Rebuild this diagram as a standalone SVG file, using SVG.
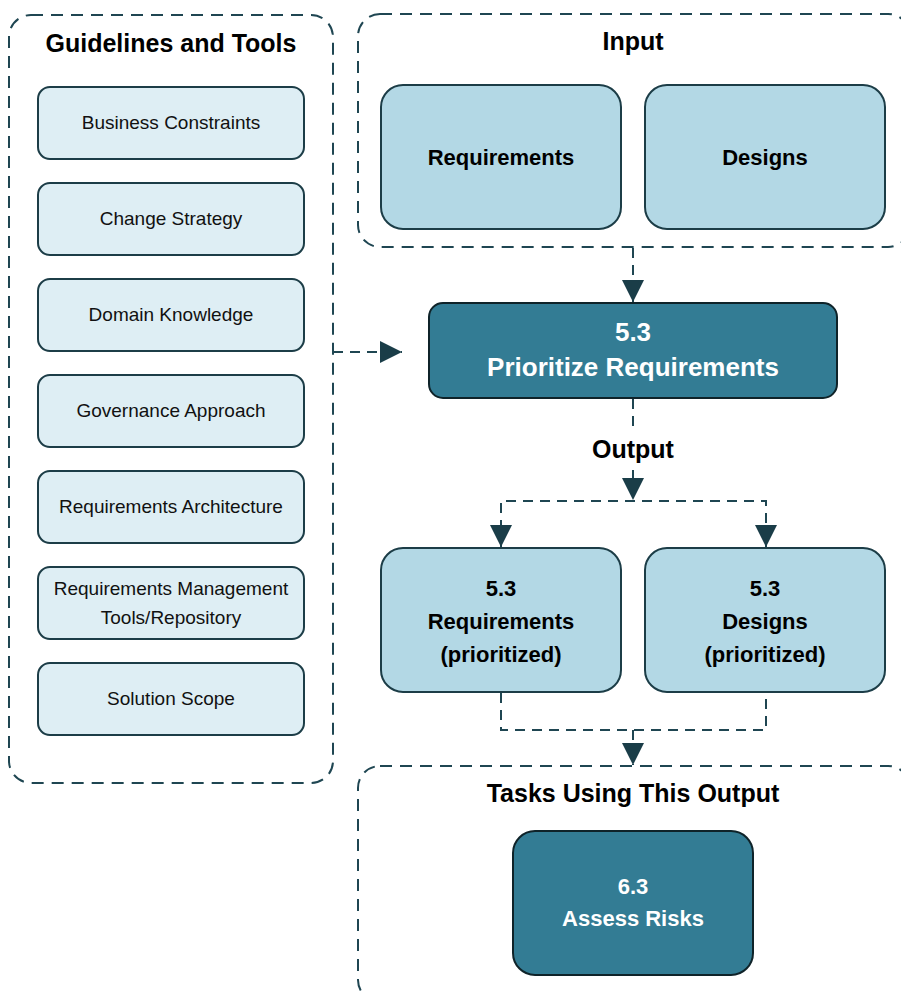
<svg xmlns="http://www.w3.org/2000/svg" width="901" height="994" viewBox="0 0 901 994">
<defs>
<style>
.cont{fill:none;stroke:#1f4652;stroke-width:2;stroke-dasharray:12,8}
.small{fill:#deeef4;stroke:#1c3d47;stroke-width:2}
.mid{fill:#b3d8e5;stroke:#1c3d47;stroke-width:2}
.dark{fill:#337c94;stroke:#0f2329;stroke-width:2}
.conn{fill:none;stroke:#1f4652;stroke-width:2;stroke-dasharray:10,7}
.title{font-family:"Liberation Sans",Arial,sans-serif;font-weight:bold;font-size:25px;fill:#000;text-anchor:middle}
.st{font-family:"Liberation Sans",Arial,sans-serif;font-size:19px;fill:#111;text-anchor:middle}
.bt{font-family:"Liberation Sans",Arial,sans-serif;font-weight:bold;font-size:22px;fill:#000;text-anchor:middle}
.wt{font-family:"Liberation Sans",Arial,sans-serif;font-weight:bold;font-size:26px;fill:#fff;text-anchor:middle}
.wt2{font-family:"Liberation Sans",Arial,sans-serif;font-weight:bold;font-size:22px;fill:#fff;text-anchor:middle}
</style>
<marker id="ah" viewBox="0 0 10 10" refX="10" refY="5" markerWidth="22" markerHeight="22" markerUnits="userSpaceOnUse" orient="auto">
<path d="M0,0 L10,5 L0,10 Z" fill="#1a3d48"/>
</marker>
</defs>
<rect width="901" height="994" fill="#fff"/>

<g id="guidelines">
<rect class="cont" x="9" y="15" width="324" height="768" rx="22"/>
<text class="title" x="171" y="52">Guidelines and Tools</text>
</g>
<g id="business-constraints"><rect class="small" x="38" y="87" width="266" height="72" rx="12"/><text class="st" x="171" y="129">Business Constraints</text></g>
<g id="change-strategy"><rect class="small" x="38" y="183" width="266" height="72" rx="12"/><text class="st" x="171" y="225">Change Strategy</text></g>
<g id="domain-knowledge"><rect class="small" x="38" y="279" width="266" height="72" rx="12"/><text class="st" x="171" y="321">Domain Knowledge</text></g>
<g id="governance-approach"><rect class="small" x="38" y="375" width="266" height="72" rx="12"/><text class="st" x="171" y="417">Governance Approach</text></g>
<g id="requirements-architecture"><rect class="small" x="38" y="471" width="266" height="72" rx="12"/><text class="st" x="171" y="513">Requirements Architecture</text></g>
<g id="req-mgmt-tools"><rect class="small" x="38" y="567" width="266" height="72" rx="12"/><text class="st" x="171" y="595">Requirements Management</text><text class="st" x="171" y="624">Tools/Repository</text></g>
<g id="solution-scope"><rect class="small" x="38" y="663" width="266" height="72" rx="12"/><text class="st" x="171" y="705">Solution Scope</text></g>

<g id="input">
<rect class="cont" x="358" y="14" width="552" height="233" rx="22"/>
<text class="title" x="633" y="50">Input</text>
</g>
<g id="requirements"><rect class="mid" x="381" y="85" width="240" height="144" rx="22"/><text class="bt" x="501" y="165">Requirements</text></g>
<g id="designs"><rect class="mid" x="645" y="85" width="240" height="144" rx="22"/><text class="bt" x="765" y="165">Designs</text></g>

<g id="prioritize">
<rect class="dark" x="429" y="303" width="408" height="95" rx="14"/>
<text class="wt" x="633" y="341">5.3</text>
<text class="wt" x="633" y="376">Prioritize Requirements</text>
</g>

<g id="output-label"><text class="title" x="633" y="458">Output</text></g>

<g id="req-prioritized"><rect class="mid" x="381" y="548" width="240" height="144" rx="22"/><text class="bt" x="501" y="596">5.3</text><text class="bt" x="501" y="629">Requirements</text><text class="bt" x="501" y="662">(prioritized)</text></g>
<g id="designs-prioritized"><rect class="mid" x="645" y="548" width="240" height="144" rx="22"/><text class="bt" x="765" y="596">5.3</text><text class="bt" x="765" y="629">Designs</text><text class="bt" x="765" y="662">(prioritized)</text></g>

<g id="tasks">
<rect class="cont" x="358" y="766" width="552" height="236" rx="22"/>
<text class="title" x="633" y="802">Tasks Using This Output</text>
</g>
<g id="assess-risks"><rect class="dark" x="513" y="831" width="240" height="144" rx="22"/><text class="wt2" x="633" y="894">6.3</text><text class="wt2" x="633" y="926">Assess Risks</text></g>

<g id="connectors">
<line class="conn" x1="633" y1="248" x2="633" y2="302" marker-end="url(#ah)"/>
<line class="conn" x1="333" y1="352" x2="402" y2="352" marker-end="url(#ah)"/>
<line class="conn" x1="633" y1="399" x2="633" y2="430"/>
<line class="conn" x1="633" y1="470" x2="633" y2="500" marker-end="url(#ah)"/>
<polyline class="conn" points="501,547 501,501 766,501 766,547"/>
<line x1="501" y1="525" x2="501" y2="547" stroke="#1f4652" stroke-width="2" marker-end="url(#ah)"/>
<line x1="766" y1="525" x2="766" y2="547" stroke="#1f4652" stroke-width="2" marker-end="url(#ah)"/>
<polyline class="conn" points="501,693 501,730 766,730 766,693"/>
<line class="conn" x1="633" y1="730" x2="633" y2="765" marker-end="url(#ah)"/>
</g>
</svg>
